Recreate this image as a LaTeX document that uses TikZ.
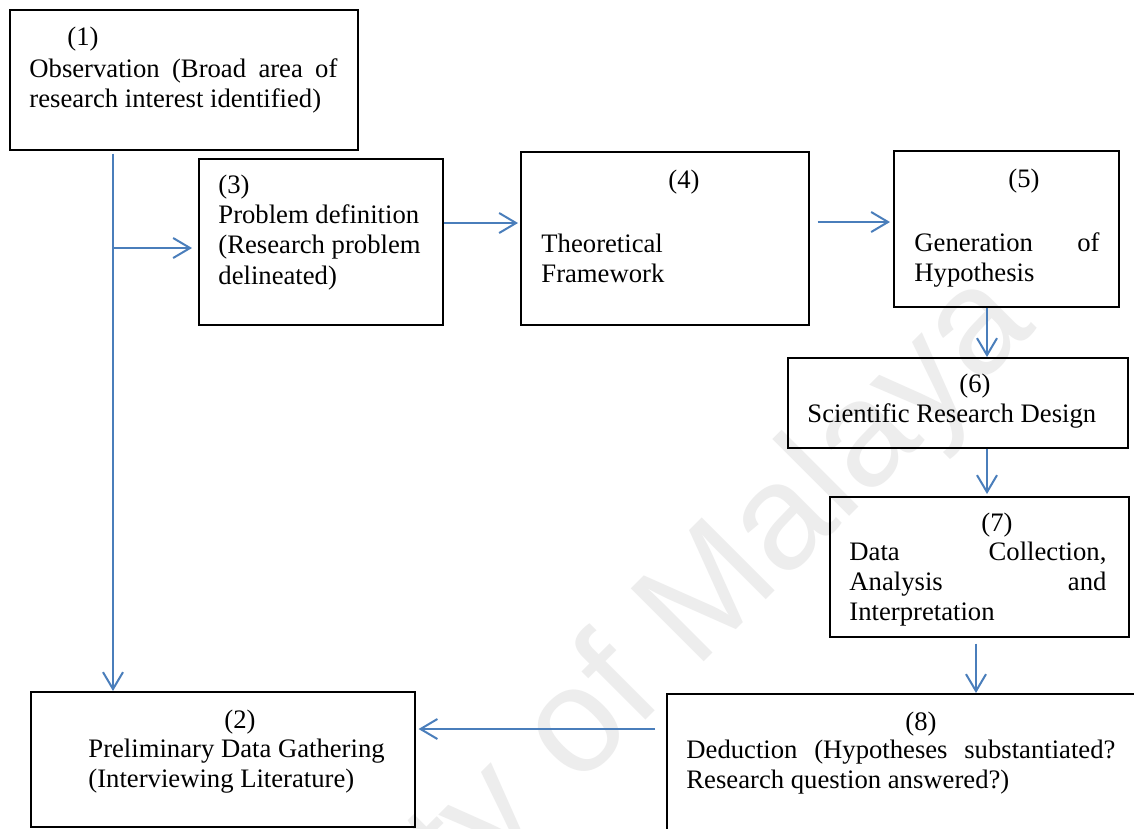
\documentclass[tikz,border=0pt]{standalone}
\usepackage{fontspec}
\setmainfont{Liberation Serif}
\newfontfamily\wmfont{Liberation Sans}
\usetikzlibrary{arrows.meta}
\newdimen\px \px=0.45pt
\definecolor{flowblue}{RGB}{74,126,187}
\definecolor{wmgray}{RGB}{237,237,237}
\tikzset{
  box/.style={draw=black, line width=0.7pt, inner sep=0pt, anchor=north west},
  num/.style={inner sep=0pt, anchor=base},
  body/.style={inner sep=0pt, anchor=base west},
  flow/.style={draw=flowblue, line width=0.9pt, -{Straight Barb[length=7.6pt,width=9pt]}},
}
\newcommand{\lines}[1]{\begin{tabular}[t]{@{}l@{}}#1\end{tabular}}
\begin{document}
\begin{tikzpicture}[x=0.45pt, y=-0.45pt, font=\fontsize{12}{13.7}\selectfont]
\useasboundingbox (0,0) rectangle (1134,828);
\fill[white] (0,0) rectangle (1134,828);

% faint watermark behind everything
\begin{scope}
  \clip (0,0) rectangle (1134,828);
  \node[rotate=45, anchor=base west, inner sep=0pt, text=wmgray,
        font=\wmfont\fontsize{67.5}{70}\selectfont] (wm) at (82,1284) {University of Malaya};
\end{scope}

% boxes
\node[box, minimum width=348\px, minimum height=140\px] (b1) at (9,9) {};
\node[box, minimum width=384\px, minimum height=135\px] (b2) at (30,691) {};
\node[box, minimum width=244\px, minimum height=166\px] (b3) at (198,158) {};
\node[box, minimum width=288\px, minimum height=173\px] (b4) at (520,151) {};
\node[box, minimum width=225\px, minimum height=156\px] (b5) at (893,150) {};
\node[box, minimum width=340\px, minimum height=90\px] (b6) at (787,357) {};
\node[box, minimum width=299\px, minimum height=140\px] (b7) at (829,496) {};
\begin{scope}
  \clip (0,0) rectangle (1134,828);
  \node[box, minimum width=490\px, minimum height=160\px] (b8) at (666,693) {};
\end{scope}

% texts
\node[num] (n1) at (83,45) {(1)};
\node[body] (t1) at (29,77) {\lines{\hbox to 308\px{Observation \hfill(Broad \hfill area \hfill of}\\ research interest identified)}};

\node[num] (n2) at (240,728) {(2)};
\node[body] (t2) at (88,757) {\lines{Preliminary Data Gathering\\ (Interviewing Literature)}};

\node[body] (t3) at (218,193) {\lines{(3)\\ Problem definition\\ (Research problem\\ delineated)}};

\node[num] (n4) at (684,188) {(4)};
\node[body] (t4) at (541,252) {\lines{Theoretical\\ Framework}};

\node[num] (n5) at (1024,187) {(5)};
\node[body] (t5) at (914,251) {\lines{\hbox to 185\px{Generation\hfill of}\\ Hypothesis}};

\node[num] (n6) at (975,392) {(6)};
\node[body] (t6) at (807,422) {Scientific Research Design};

\node[num] (n7) at (997,531) {(7)};
\node[body] (t7) at (849,560) {\lines{\hbox to 257\px{Data\hfill Collection,}\\ \hbox to 257\px{Analysis\hfill and}\\ Interpretation}};

\node[num] (n8) at (921,730) {(8)};
\node[body] (t8) at (686,758) {\lines{\hbox to 429\px{Deduction \hfill(Hypotheses \hfill substantiated?}\\ Research question answered?)}};

% connectors
\coordinate (trunk) at (113,0);
\coordinate (j3) at (113,248);
\coordinate (y34) at (0,223);
\coordinate (y45) at (0,222);
\coordinate (x56) at (987,0);
\coordinate (x78) at (976,0);
\coordinate (y82) at (0,729);

\draw[flow, shorten <=3\px] (b1.south -| trunk) -- (b2.north -| trunk);
\draw[flow, shorten >=6\px] (j3) -- (b3.west |- j3);
\draw[flow, shorten >=2\px] (b3.east |- y34) -- (b4.west |- y34);
\draw[flow, shorten <=8\px, shorten >=3\px] (b4.east |- y45) -- (b5.west |- y45);
\draw[flow] (b5.south -| x56) -- (b6.north -| x56);
\draw[flow, shorten >=2\px] (b6.south -| x56) -- (b7.north -| x56);
\draw[flow, shorten <=6\px] (b7.south -| x78) -- (b8.north -| x78);
\draw[flow, shorten <=11\px, shorten >=3\px] (b8.west |- y82) -- (b2.east |- y82);
\end{tikzpicture}
\end{document}
